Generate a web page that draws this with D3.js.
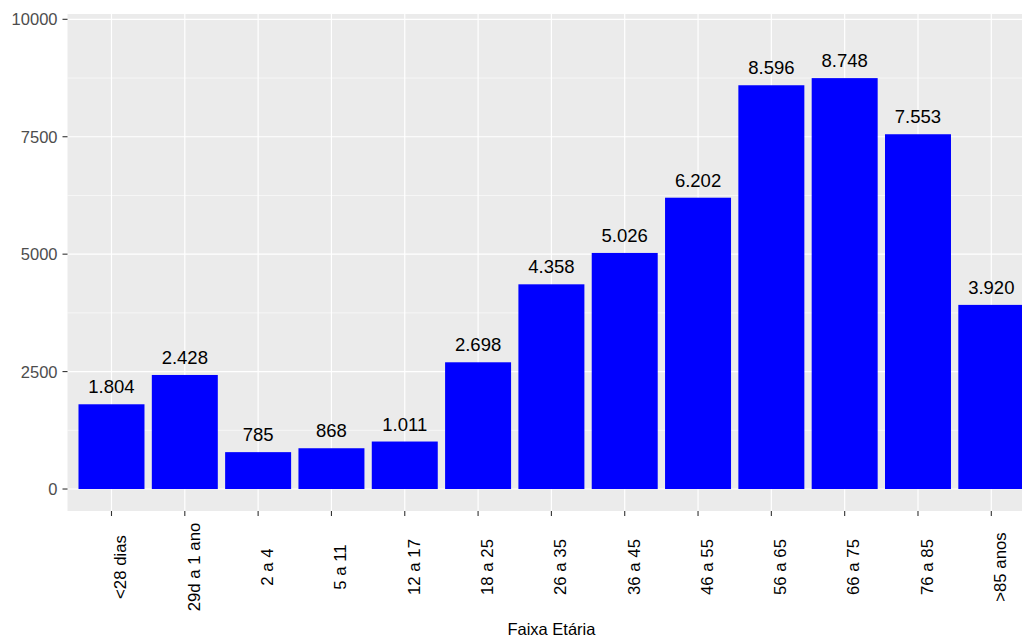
<!DOCTYPE html>
<html>
<head>
<meta charset="utf-8">
<script src="https://cdn.jsdelivr.net/npm/d3@7"></script>
<style>
  html, body { margin: 0; padding: 0; background: #ffffff; }
  svg { display: block; }
  text { font-family: Arial, "Liberation Sans", sans-serif; }
</style>
</head>
<body>
<svg id="chart" width="1022" height="639"></svg>
<script>
const categories = ["<28 dias", "29d a 1 ano", "2 a 4", "5 a 11", "12 a 17", "18 a 25", "26 a 35", "36 a 45", "46 a 55", "56 a 65", "66 a 75", "76 a 85", ">85 anos"];
const values = [1804, 2428, 785, 868, 1011, 2698, 4358, 5026, 6202, 8596, 8748, 7553, 3920];
const yTicks = [0, 2500, 5000, 7500, 10000];
const yMinor = [1250, 3750, 6250, 8750];
const xTitle = "Faixa Etária";

const svg = d3.select("#chart");
const W = 1022, H = 639;
const panel = { left: 67.5, top: 14, right: 1035.3, bottom: 511 };

const x = d3.scalePoint().domain(categories).range([panel.left, panel.right]).padding(0.6);
const step = x.step();
const y = d3.scaleLinear().domain([-468, 10113]).range([panel.bottom, panel.top]);

const fmt = d3.formatLocale({ decimal: ",", thousands: ".", grouping: [3], currency: ["R$", ""] }).format(",d");

svg.append("rect").attr("width", W).attr("height", H).attr("fill", "#ffffff");

// panel background
svg.append("rect")
  .attr("x", panel.left).attr("y", panel.top)
  .attr("width", panel.right - panel.left).attr("height", panel.bottom - panel.top)
  .attr("fill", "#EBEBEB");

// minor grid
svg.append("g").selectAll("line").data(yMinor).join("line")
  .attr("x1", panel.left).attr("x2", panel.right)
  .attr("y1", d => y(d)).attr("y2", d => y(d))
  .attr("stroke", "#ffffff").attr("stroke-width", 0.6);

// major grid y
svg.append("g").selectAll("line").data(yTicks).join("line")
  .attr("x1", panel.left).attr("x2", panel.right)
  .attr("y1", d => y(d)).attr("y2", d => y(d))
  .attr("stroke", "#ffffff").attr("stroke-width", 1.2);

// major grid x
svg.append("g").selectAll("line").data(categories).join("line")
  .attr("x1", d => x(d)).attr("x2", d => x(d))
  .attr("y1", panel.top).attr("y2", panel.bottom)
  .attr("stroke", "#ffffff").attr("stroke-width", 1.2);

const data = categories.map((c, i) => ({ c, v: values[i] }));

// bars
svg.append("g").selectAll("rect").data(data).join("rect")
  .attr("x", d => x(d.c) - step * 0.45)
  .attr("width", step * 0.9)
  .attr("y", d => y(d.v))
  .attr("height", d => y(0) - y(d.v))
  .attr("fill", "#0000FF");

// value labels
svg.append("g").selectAll("text").data(data).join("text")
  .attr("x", d => x(d.c))
  .attr("y", d => y(d.v) - 11)
  .attr("text-anchor", "middle")
  .attr("font-size", "18.5px")
  .attr("fill", "#000000")
  .text(d => fmt(d.v));

// y axis ticks & labels
const yAxis = svg.append("g");
yAxis.selectAll("line").data(yTicks).join("line")
  .attr("x1", panel.left - 5).attr("x2", panel.left)
  .attr("y1", d => y(d)).attr("y2", d => y(d))
  .attr("stroke", "#333333").attr("stroke-width", 1.1);
yAxis.selectAll("text").data(yTicks).join("text")
  .attr("x", panel.left - 10)
  .attr("y", d => y(d) + 6)
  .attr("text-anchor", "end")
  .attr("font-size", "16.5px")
  .attr("fill", "#4D4D4D")
  .text(d => d);

// x axis ticks & labels
const xAxis = svg.append("g");
xAxis.selectAll("line").data(categories).join("line")
  .attr("x1", d => x(d)).attr("x2", d => x(d))
  .attr("y1", panel.bottom).attr("y2", panel.bottom + 5)
  .attr("stroke", "#333333").attr("stroke-width", 1.1);
xAxis.selectAll("text").data(categories).join("text")
  .attr("transform", d => `translate(${x(d) + 14.8},567) rotate(-90)`)
  .attr("text-anchor", "middle")
  .attr("font-size", "16.8px")
  .attr("fill", "#000000")
  .text(d => d);

// x title
svg.append("text")
  .attr("x", (panel.left + panel.right) / 2)
  .attr("y", 635)
  .attr("text-anchor", "middle")
  .attr("font-size", "16.5px")
  .attr("fill", "#000000")
  .text(xTitle);
</script>
</body>
</html>
